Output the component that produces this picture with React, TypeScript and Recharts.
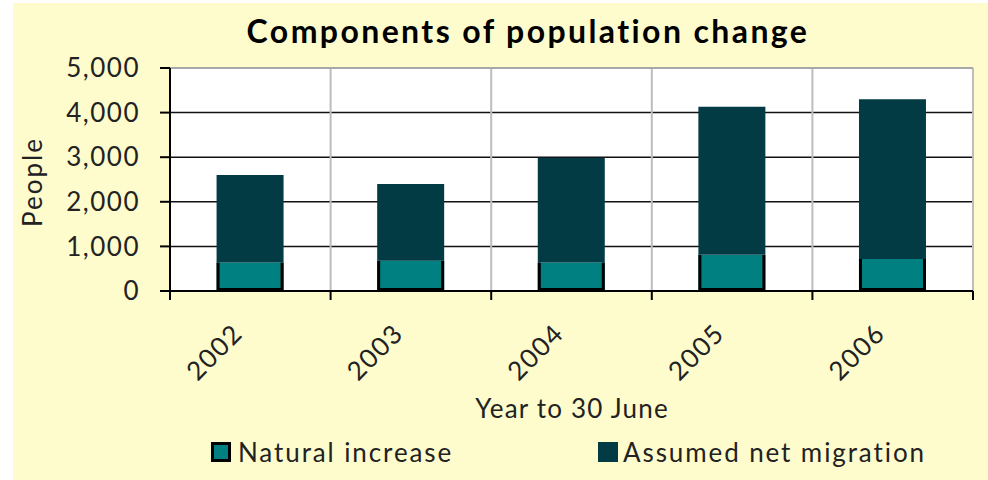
import { BarChart, Bar, XAxis, YAxis, CartesianGrid, ReferenceLine } from 'recharts'

const YEARS = ['2002', '2003', '2004', '2005', '2006']
const NATURAL_INCREASE = [640, 680, 640, 810, 720]
const NET_MIGRATION = [1960, 1720, 2350, 3320, 3580]
const Y_TICKS = [0, 1000, 2000, 3000, 4000, 5000]

const W = 988
const H = 480
const LEFT = 170
const RIGHT = 15
const TOP = 68
const BOTTOM = 189
const PLOT_W = W - LEFT - RIGHT
const BAND = PLOT_W / YEARS.length

const FONT = 'Lato, "Open Sans", sans-serif'
const TEAL = '#008080'
const DARK = '#033b45'

const chartData = YEARS.map((year, i) => ({
  year,
  natural: NATURAL_INCREASE[i],
  migration: NET_MIGRATION[i],
}))

// teal block with black edges on left, bottom and right only
function NaturalShape(props: any) {
  const { x, y, width, height } = props
  if (!height) return null
  return (
    <g>
      <rect x={x} y={y} width={width} height={height} fill={TEAL} />
      <path
        d={`M${x + 1.5},${y} V${y + height - 1.5} H${x + width - 1.5} V${y}`}
        stroke="#000"
        strokeWidth={3}
        fill="none"
      />
    </g>
  )
}

function YearTick(props: any) {
  const { x, y, payload, index } = props
  const tx = x - 6
  const ty = y + 44
  return (
    <g>
      <line x1={x - BAND / 2} x2={x - BAND / 2} y1={y} y2={y + 9} stroke="#000" strokeWidth={2} />
      {index === YEARS.length - 1 && (
        <line x1={x + BAND / 2} x2={x + BAND / 2} y1={y} y2={y + 9} stroke="#000" strokeWidth={2} />
      )}
      <text
        x={tx}
        y={ty}
        textAnchor="end"
        transform={`rotate(-45, ${tx}, ${ty})`}
        fontFamily={FONT}
        fontSize={26}
        letterSpacing={1.5}
        fill="#222"
      >
        {payload.value}
      </text>
    </g>
  )
}

export default function App() {
  return (
    <div style={{ position: 'absolute', left: 0, top: 0, width: W, height: H, background: '#fff', overflow: 'hidden' }}>
      <div style={{ position: 'absolute', left: 13, top: 3, width: W - 13, height: H - 3, background: '#fefccd' }} />
      <div style={{ position: 'absolute', left: 0, top: 0 }}>
        <BarChart
          width={W}
          height={H}
          data={chartData}
          margin={{ top: TOP, right: RIGHT, left: 0, bottom: BOTTOM - 60 }}
          barCategoryGap="29%"
        >
          <CartesianGrid
            fill="#fff"
            vertical={false}
            horizontalValues={[1000, 2000, 3000, 4000]}
            stroke="#111"
            strokeWidth={1.5}
          />
          <CartesianGrid
            horizontal={false}
            stroke="#bdbdbd"
            strokeWidth={2}
            verticalCoordinatesGenerator={({ offset }: any) =>
              YEARS.map((_, i) => offset.left + (i + 1) * (offset.width / YEARS.length))
            }
          />
          <ReferenceLine y={5000} stroke="#a8a8a8" strokeWidth={2} />
          <XAxis
            dataKey="year"
            height={60}
            tickSize={0}
            tickMargin={0}
            tickLine={false}
            axisLine={{ stroke: '#000', strokeWidth: 2 }}
            tick={<YearTick />}
            interval={0}
          />
          <YAxis
            width={LEFT}
            domain={[0, 5000]}
            ticks={Y_TICKS}
            tickSize={10}
            tickMargin={20}
            tickFormatter={(v: number) => v.toLocaleString('en-US')}
            tick={{ fontFamily: FONT, fontSize: 26, fill: '#222', letterSpacing: 1.5 }}
            axisLine={{ stroke: '#000', strokeWidth: 2 }}
            tickLine={{ stroke: '#000', strokeWidth: 2 }}
          />
          <Bar dataKey="natural" stackId="a" fill={TEAL} shape={<NaturalShape />} isAnimationActive={false} />
          <Bar dataKey="migration" stackId="a" fill={DARK} isAnimationActive={false} />
        </BarChart>
      </div>
      <svg
        width={W}
        height={H}
        style={{ position: 'absolute', left: 0, top: 0, pointerEvents: 'none' }}
        fontFamily={FONT}
      >
        <text x={528} y={43} textAnchor="middle" fontSize={32} fontWeight={700} letterSpacing={2.4} fill="#000">
          Components of population change
        </text>
        <text
          x={42}
          y={182}
          textAnchor="middle"
          fontSize={26}
          letterSpacing={2}
          fill="#222"
          transform="rotate(-90, 42, 182)"
        >
          People
        </text>
        <text x={572} y={418} textAnchor="middle" fontSize={26} letterSpacing={1.2} fill="#222">
          Year to 30 June
        </text>
        <rect x={212.5} y={443.5} width={17} height={17} fill={TEAL} stroke="#000" strokeWidth={3} />
        <text x={238} y={462} fontSize={26} letterSpacing={1.9} fill="#222">
          Natural increase
        </text>
        <rect x={598} y={442} width={20} height={20} fill={DARK} />
        <text x={623} y={462} fontSize={26} letterSpacing={1.9} fill="#222">
          Assumed net migration
        </text>
      </svg>
    </div>
  )
}
